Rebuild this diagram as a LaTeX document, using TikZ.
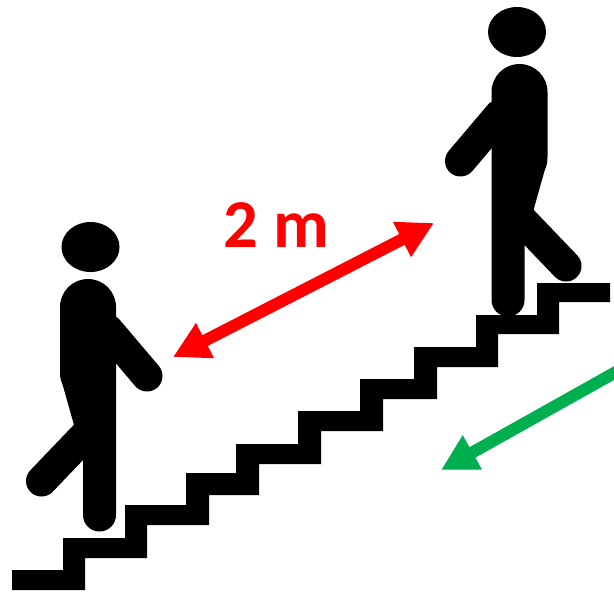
\documentclass[tikz,border=0pt]{standalone}
\usepackage{fontspec}
\newfontfamily\labelfont{Carlito}
\usetikzlibrary{arrows.meta}
\colorlet{myred}{red}
\definecolor{mygreen}{HTML}{00B050}
\tikzstyle{limb}=[black,line width=31*0.02cm,line cap=round]
\tikzstyle{gap}=[line width=12*0.02cm,-{Triangle[length=20.5pt,width=21pt]}]
\begin{document}
\begin{tikzpicture}[x=0.02cm,y=-0.02cm]
  \def\W{614}   % total width
  \def\H{593}   % total height
  \useasboundingbox (0,0) rectangle (\W,\H);
  \clip (0,0) rectangle (\W,\H);

  % staircase
  \fill[black] (12,570) -- (63,570) -- (63,538) -- (125,538) -- (125,505) -- (186,505)
    -- (186,473) -- (236,473) -- (236,444) -- (298,444) -- (298,411) -- (360,411)
    -- (360,379) -- (414,379) -- (414,347) -- (476,347) -- (476,315) -- (537,315)
    -- (537,283) -- (610,283) -- (610,302) -- (559,302) -- (559,334) -- (498,334)
    -- (498,367) -- (437,367) -- (437,399) -- (383,399) -- (383,431) -- (321,431)
    -- (321,464) -- (259,464) -- (259,495) -- (209,495) -- (209,525) -- (147,525)
    -- (147,558) -- (85,558) -- (85,590) -- (12,590) -- cycle;

  % the two walkers: the upper one is the lower one mirrored
  \foreach \S/\X/\Y in {1/0/0,-1/607.5/-215} {
    \begin{scope}[shift={(\X,\Y)},xscale=\S]
      \fill[black] (90.5,247) ellipse (29 and 25);
      \fill[black] (60,307) arc (180:360:28) -- (116,515) arc (0:180:16.5)
        -- (83,460) -- (74,425) -- (63,386) .. controls (60,378) .. (60,368) -- cycle;
      \draw[limb] (108,330) -- (147,376); % arm
      \draw[limb] (87.5,433) -- (41.5,481); % leg
    \end{scope}
  }

  % distance between the walkers
  \coordinate (redlow) at (173,357);
  \coordinate (redup) at (434,223);
  \draw[gap,myred,{Triangle[length=20.5pt,width=21pt]}-{Triangle[length=20.5pt,width=21pt]}] (redlow) -- (redup);
  \node[myred,anchor=base,inner sep=0pt,font=\labelfont\bfseries\fontsize{39}{39}\selectfont] (dist) at (276,247) {2 m};

  % walking direction
  \coordinate (greenstart) at (632,363);
  \coordinate (greentip) at (441,470);
  \draw[gap,mygreen] (greenstart) -- (greentip);
\end{tikzpicture}
\end{document}
